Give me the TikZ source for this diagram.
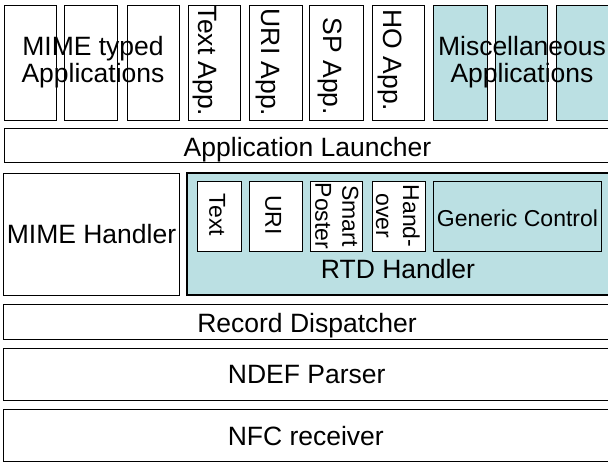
\documentclass[tikz,border=0pt]{standalone}
\usepackage{fontspec}
\setmainfont{Liberation Sans}
\definecolor{rtdteal}{RGB}{187,224,227}
\begin{document}
\begin{tikzpicture}[x=1pt, y=-1pt,
    box/.style={draw, line width=0.9pt, inner sep=0pt},
    tealbox/.style={box, fill=rtdteal},
    lbl/.style={inner sep=0pt, font=\fontsize{26.5}{27}\selectfont, text height=19pt, text depth=0pt},
    twolbl/.style={inner sep=0pt, align=center, font=\fontsize{26.5}{27}\selectfont, text depth=0pt},
    smalllbl/.style={inner sep=0pt, font=\fontsize{23}{27}\selectfont, text height=16.5pt, text depth=0pt},
    smalltwo/.style={inner sep=0pt, align=center, font=\fontsize{23}{27}\selectfont, text depth=0pt}]
    \useasboundingbox (0,0) rectangle (608,462);
        % applications row
        \node[box, minimum width=52pt, minimum height=115pt] (mimeA) at (30,62.5){};
        \node[box, minimum width=53pt, minimum height=115pt] (mimeB) at (90.5,62.5){};
        \node[box, minimum width=52pt, minimum height=115pt] (mimeC) at (153,62.5){};
            \node[twolbl] (mimeapps) at (93,59.4){MIME typed\\Applications};
        \node[box, minimum width=52pt, minimum height=115pt] (textapp) at (214,62.5){};
            \node[lbl, rotate=-90] (textapplbl) at (208.3,61){Text App.};
        \node[box, minimum width=53pt, minimum height=115pt] (uriapp) at (275.5,62.5){};
            \node[lbl, rotate=-90] (uriapplbl) at (270.5,62.5){URI App.};
        \node[box, minimum width=54pt, minimum height=115pt] (spapp) at (336,62.5){};
            \node[lbl, rotate=-90] (spapplbl) at (332.5,66.5){SP App.};
        \node[box, minimum width=52pt, minimum height=115pt] (hoapp) at (398,62.5){};
            \node[lbl, rotate=-90] (hoapplbl) at (392.5,60.5){HO App.};
        \node[tealbox, minimum width=54pt, minimum height=115pt] (miscA) at (460,62.5){};
        \node[tealbox, minimum width=52pt, minimum height=115pt] (miscB) at (521,62.5){};
        \node[tealbox, minimum width=54pt, minimum height=115pt] (miscC) at (583,62.5){};
            \node[twolbl] (miscapps) at (522,59.4){Miscellaneous\\Applications};
        % launcher
        \node[box, minimum width=606pt, minimum height=34pt] (launcher) at (307,145){};
            \node[lbl] (launcherlbl) at (307.5,147.5){Application Launcher};
        % handlers
        \node[box, minimum width=176pt, minimum height=122pt] (mimeh) at (91,234){};
            \node[lbl] (mimehlbl) at (91.5,234){MIME Handler};
        \node[draw, line width=1.8pt, fill=rtdteal, inner sep=0pt, minimum width=423pt, minimum height=122pt] (rtd) at (398.5,234){};
            \node[box, fill=white, minimum width=44pt, minimum height=70pt] (rtdtext) at (219,216){};
                \node[smalllbl, rotate=-90] (rtdtextlbl) at (217.5,215){Text};
            \node[box, fill=white, minimum width=53pt, minimum height=70pt] (rtduri) at (275.5,216){};
                \node[smalllbl, rotate=-90] (rtdurilbl) at (273.7,215){URI};
            \node[box, fill=white, minimum width=52pt, minimum height=70pt] (rtdsp) at (336,216){};
                \node[smalltwo, rotate=-90] (rtdsplbl) at (337,216){Smart\\Poster};
            \node[box, fill=white, minimum width=53pt, minimum height=70pt] (rtdho) at (398.5,216){};
                \node[smalltwo, rotate=-90] (rtdholbl) at (398,216){Hand-\\over};
            \node[tealbox, minimum width=168pt, minimum height=70pt] (generic) at (517,216){};
                \node[smalllbl] (genericlbl) at (517.5,218){Generic Control};
            \node[lbl] (rtdlbl) at (398,269.5){RTD Handler};
        % lower layers
        \node[box, minimum width=607pt, minimum height=35pt] (dispatcher) at (306.5,321.5){};
            \node[lbl] (dispatcherlbl) at (307,323.3){Record Dispatcher};
        \node[box, minimum width=607pt, minimum height=52pt] (parser) at (306.5,374){};
            \node[lbl] (parserlbl) at (306.7,374){NDEF Parser};
        \node[box, minimum width=607pt, minimum height=51.5pt] (receiver) at (306.5,435.5){};
            \node[lbl] (receiverlbl) at (305.8,436){NFC receiver};
\end{tikzpicture}
\end{document}
